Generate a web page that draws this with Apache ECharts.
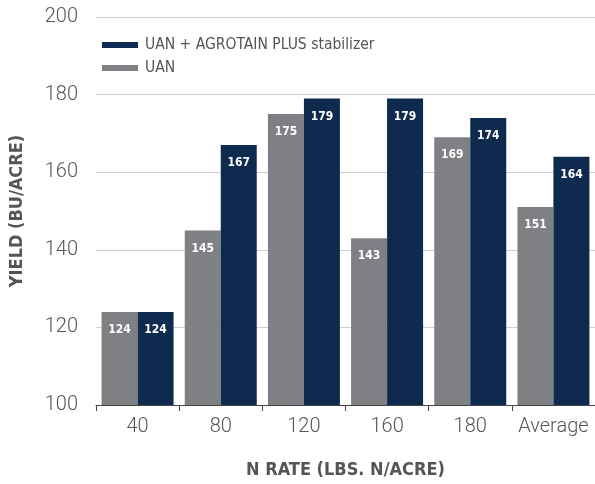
<!DOCTYPE html>
<html><head><meta charset="utf-8">
<script src="https://cdn.jsdelivr.net/npm/echarts@6/dist/echarts.min.js"></script>
<style>html,body{margin:0;padding:0;background:#fff}#c{width:595px;height:484px}</style>
</head><body><div id="c"></div>
<script>
const categories = ['40','80','120','160','180','Average'];
const uan = [124,145,175,143,169,151];
const uanPlus = [124,167,179,179,174,164];
const yTicks = {min:100, max:200, interval:20};
const seriesNames = ['UAN','UAN + AGROTAIN PLUS stabilizer'];

const narrow = "'Liberation Sans Narrow','DejaVu Sans Condensed','Roboto',sans-serif";
const labelStyle = {show:true, position:'insideTop', distance:12, color:'#fff', fontFamily:narrow, fontWeight:'bold', fontSize:12};
const chart = echarts.init(document.getElementById('c'));
chart.setOption({
  animation:false,
  grid:{left:95, width:504, top:17, bottom:76, containLabel:false},
  legend:{
    data:[seriesNames[1], seriesNames[0]], orient:'vertical', left:97, top:32,
    itemWidth:36, itemHeight:6, itemGap:7, icon:'rect',
    textStyle:{color:'#555', fontFamily:narrow, fontSize:15.5, padding:[0,0,0,2]}
  },
  xAxis:{
    type:'category', data:categories,
    axisLine:{lineStyle:{color:'#444', width:1}},
    axisTick:{show:true, length:6, lineStyle:{color:'#444'}},
    axisLabel:{color:'#555', fontFamily:'Roboto', fontWeight:300, fontSize:20, margin:12, interval:0},
    name:'N RATE (LBS. N/ACRE)', nameLocation:'middle', nameGap:56,
    nameTextStyle:{color:'#555', fontFamily:narrow, fontWeight:'bold', fontSize:18}
  },
  yAxis:{
    type:'value', min:yTicks.min, max:yTicks.max, interval:yTicks.interval,
    axisLine:{show:false}, axisTick:{show:false},
    splitLine:{lineStyle:{color:'#cfcfcf', width:1}},
    axisLabel:{color:'#555', fontFamily:'Roboto', fontWeight:300, fontSize:20, margin:18},
    name:'YIELD (BU/ACRE)', nameLocation:'middle', nameGap:70,
    nameTextStyle:{color:'#555', fontFamily:narrow, fontWeight:'bold', fontSize:18}
  },
  series:[
    {name:seriesNames[0], type:'bar', data:uan, barWidth:36, barGap:'0%', itemStyle:{color:'#7f8084'}, label:labelStyle},
    {name:seriesNames[1], type:'bar', data:uanPlus, barWidth:36, barGap:'0%', itemStyle:{color:'#0e2a4f'}, label:labelStyle}
  ]
});
</script></body></html>
